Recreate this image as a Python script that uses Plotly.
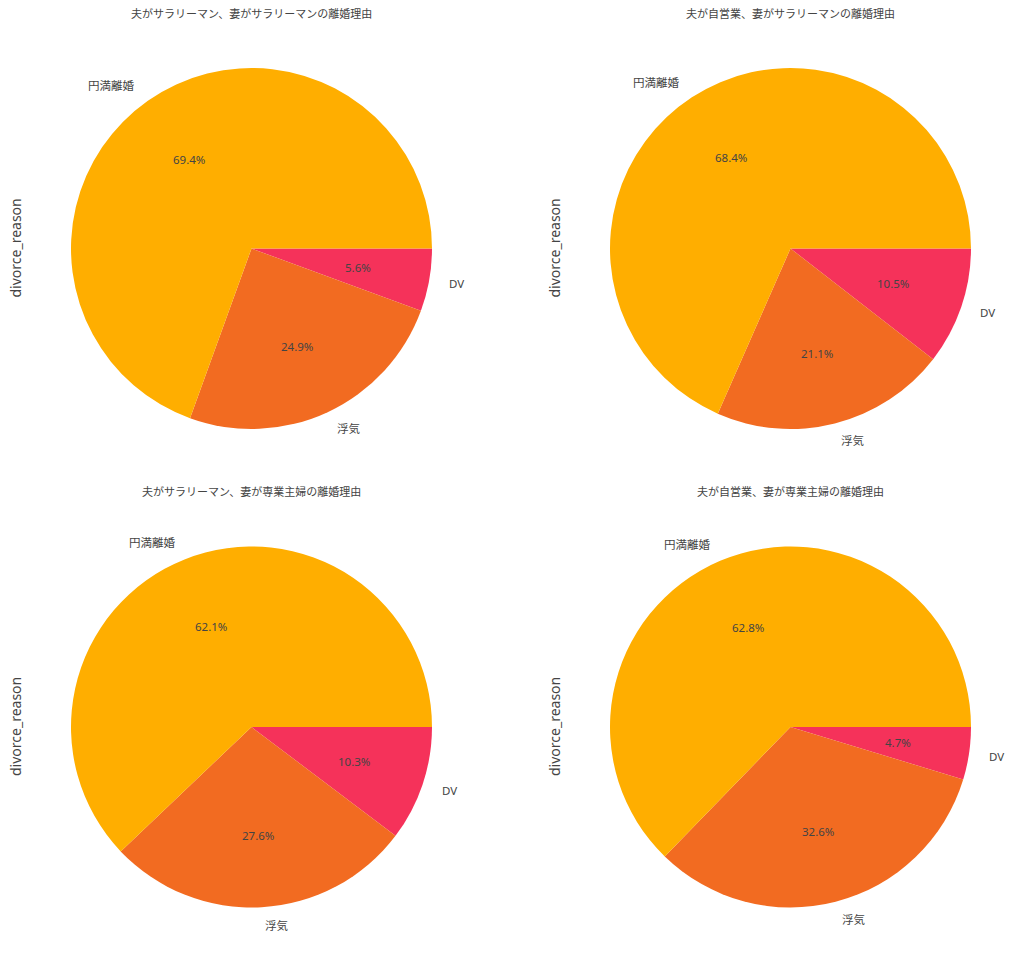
import math
import plotly.graph_objects as go

W, H = 1024, 961

labels = ["円満離婚", "浮気", "DV"]
colors = ["#FFAE00", "#F26B21", "#F5325A"]

titles = [
    "夫がサラリーマン、妻がサラリーマンの離婚理由",
    "夫が自営業、妻がサラリーマンの離婚理由",
    "夫がサラリーマン、妻が専業主婦の離婚理由",
    "夫が自営業、妻が専業主婦の離婚理由",
]
vals_ss = [69.4, 24.9, 5.6]
vals_js = [68.4, 21.1, 10.5]
vals_sh = [62.1, 27.6, 10.3]
vals_jh = [62.8, 32.6, 4.7]
series = [vals_ss, vals_js, vals_sh, vals_jh]
ylabel = "divorce_reason"

# layout (pixel geometry)
centers = [(251.5, 248.5), (790.5, 248.5), (251.5, 727.0), (790.5, 727.0)]
R = 180.5
FONT = "Noto Sans, Noto Sans CJK JP, sans-serif"
TXT = "#444444"


def px(x):
    return x / W


def py(y):
    return 1 - y / H


fig = go.Figure()
ann = []
for (cx, cy), vals, title in zip(centers, series, titles):
    # matplotlib-style: first slice starts at 3 o'clock going counterclockwise.
    # Equivalent in plotly: reversed order, clockwise, starting at 3 o'clock.
    fig.add_trace(go.Pie(
        labels=labels[::-1], values=vals[::-1], sort=False,
        direction="clockwise", rotation=90,
        marker=dict(colors=colors[::-1], line=dict(width=0)),
        textinfo="none", hoverinfo="label+percent", showlegend=False,
        domain=dict(x=[px(cx - R), px(cx + R)], y=[py(cy + R), py(cy - R)]),
    ))
    total = sum(vals)
    start = 0.0
    for lab, v in zip(labels, vals):
        frac = v / total
        mid = math.radians((start + frac / 2) * 360)
        start += frac
        c, s = math.cos(mid), math.sin(mid)
        ann.append(dict(x=px(cx + 0.6 * R * c), y=py(cy - 0.6 * R * s),
                        xref="paper", yref="paper", text=f"{v:.1f}%",
                        showarrow=False, xanchor="center", yanchor="middle",
                        font=dict(size=11.5, color=TXT, family=FONT)))
        ann.append(dict(x=px(cx + 1.1 * R * c), y=py(cy - 1.1 * R * s),
                        xref="paper", yref="paper", text=lab,
                        showarrow=False, xanchor="left" if c > 0 else "right",
                        yanchor="middle",
                        font=dict(size=11.5, color=TXT, family=FONT)))
    ann.append(dict(x=px(cx), y=py(cy - R - 55), xref="paper", yref="paper",
                    text=title, showarrow=False, xanchor="center",
                    yanchor="middle",
                    font=dict(size=11, color=TXT, family=FONT)))
    ann.append(dict(x=px(cx - R - 56), y=py(cy), xref="paper", yref="paper",
                    text=ylabel, showarrow=False, textangle=-90,
                    xanchor="center", yanchor="middle",
                    font=dict(size=14, color=TXT, family=FONT)))

fig.update_layout(
    width=W, height=H, margin=dict(l=0, r=0, t=0, b=0),
    paper_bgcolor="white", plot_bgcolor="white", annotations=ann,
)
fig.write_html("out.html")
